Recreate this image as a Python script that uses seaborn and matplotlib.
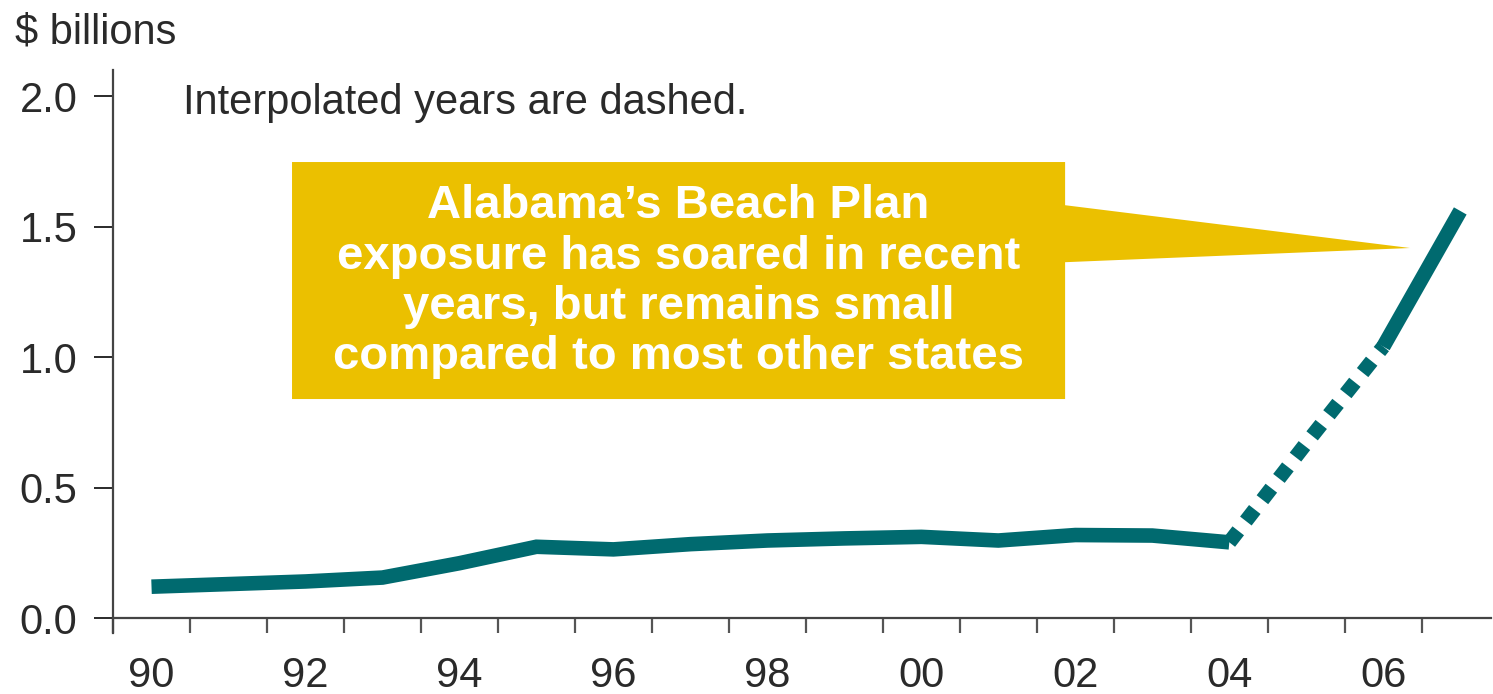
"""
Alabama Beach Plan exposure, 1990-2007
Line chart with interpolated years dashed and a callout box.
"""

import matplotlib
matplotlib.use("Agg")
import matplotlib.pyplot as plt
from matplotlib.patches import Polygon
import numpy as np
import pandas as pd
import seaborn as sns

# --- data ----------------------------------------------------------------
solid_years = [1990, 1991, 1992, 1993, 1994, 1995, 1996, 1997,
               1998, 1999, 2000, 2001, 2002, 2003, 2004]
solid_values = [0.12, 0.13, 0.14, 0.155, 0.21, 0.273, 0.263, 0.283,
                0.297, 0.305, 0.311, 0.297, 0.318, 0.316, 0.29]

dashed_years = [2004, 2005, 2006]
dashed_values = [0.29, 0.67, 1.04]

recent_years = [2006, 2007]
recent_values = [1.04, 1.56]

tick_years = list(range(1990, 2008))
label_years = [1990, 1992, 1994, 1996, 1998, 2000, 2002, 2004, 2006]
label_texts = ["90", "92", "94", "96", "98", "00", "02", "04", "06"]
y_ticks = [0.0, 0.5, 1.0, 1.5, 2.0]
y_labels = ["0.0", "0.5", "1.0", "1.5", "2.0"]

callout_text = ("Alabama\u2019s Beach Plan\n"
                "exposure has soared in recent\n"
                "years, but remains small\n"
                "compared to most other states")
note_text = "Interpolated years are dashed."
unit_text = "$ billions"

TEAL = "#006a6f"
GOLD = "#ebc000"
INK = "#2a2a2a"

sns.set_theme(style="ticks")
plt.rcParams["font.family"] = ["Liberation Sans", "DejaVu Sans"]

fig = plt.figure(figsize=(14.93, 6.94), dpi=100)
ax = fig.add_axes([0.0757, 0.1095, 0.923, 0.7896])

# values are plotted at the middle of each year bin
solid_df = pd.DataFrame({"year": np.array(solid_years) + 0.5, "value": solid_values})
dashed_df = pd.DataFrame({"year": np.array(dashed_years) + 0.5, "value": dashed_values})
recent_df = pd.DataFrame({"year": np.array(recent_years) + 0.5, "value": recent_values})

line_kw = dict(color=TEAL, linewidth=10.5, ax=ax)
sns.lineplot(data=solid_df, x="year", y="value", solid_capstyle="butt",
             solid_joinstyle="miter", **line_kw)
sns.lineplot(data=dashed_df, x="year", y="value", linestyle=(0, (1.0, 0.85)),
             dash_capstyle="butt", **line_kw)
sns.lineplot(data=recent_df, x="year", y="value", solid_capstyle="butt", **line_kw)

ax.set_xlim(1990, 2007.9)
ax.set_ylim(0, 2.1)
ax.set_xlabel("")
ax.set_ylabel("")

# year boundaries get tick marks, labels sit in the middle of the bins
ax.set_xticks(tick_years)
ax.set_xticklabels([])
ax.set_xticks(np.array(label_years) + 0.5, minor=True)
ax.set_xticklabels(label_texts, minor=True)
ax.tick_params(axis="x", which="major", length=11, width=1.6, color="#555555")
ax.tick_params(axis="x", which="minor", length=0, pad=27, labelsize=30,
               labelcolor=INK)

ax.set_yticks(y_ticks)
ax.set_yticklabels(y_labels)
ax.tick_params(axis="y", length=13.5, width=1.4, pad=12, labelsize=30,
               color=INK, labelcolor=INK)

sns.despine(ax=ax)
for side in ("left", "bottom"):
    ax.spines[side].set_linewidth(1.6)
    ax.spines[side].set_color("#444444")
ax.spines["left"].set_bounds(-0.058, 2.1)
ax.spines["left"].set_clip_on(False)

# note and unit label
ax.text(0.0508, 0.92, note_text, transform=ax.transAxes, fontsize=30,
        color=INK, va="baseline", ha="left")
fig.text(15 / 1493, 1 - 44 / 694, unit_text, fontsize=30, color=INK,
         va="baseline", ha="left")

# callout box with pointer (axes fraction)
box_l, box_r = 0.1299, 0.6909
box_b, box_t = 0.3996, 0.8321
callout = Polygon(
    [(box_l, box_b), (box_l, box_t), (box_r, box_t), (box_r, 0.7533),
     (0.9412, 0.6752), (box_r, 0.6493), (box_r, box_b)],
    closed=True, transform=ax.transAxes, facecolor=GOLD, edgecolor="none",
    zorder=3,
)
ax.add_patch(callout)
ax.text((box_l + box_r) / 2, (box_b + box_t) / 2 - 0.002, callout_text,
        transform=ax.transAxes, ha="center", va="center",
        multialignment="center", fontsize=34, fontweight="bold",
        color="white", linespacing=1.18, zorder=4)

fig.savefig("out.png", dpi=100)
plt.close(fig)
